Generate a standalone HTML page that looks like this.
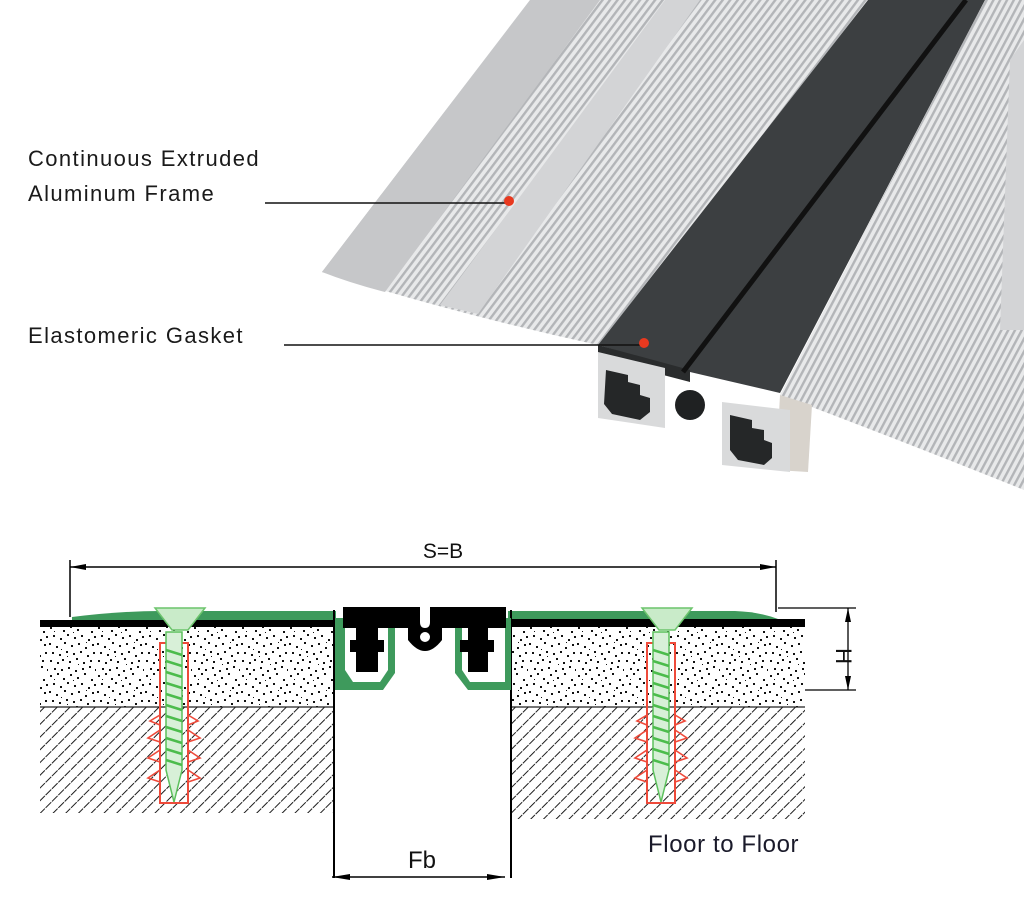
<!DOCTYPE html>
<html><head><meta charset="utf-8"><style>
html,body{margin:0;padding:0;background:#fff;}
svg{display:block;}
.lbl{font-family:"Liberation Sans",sans-serif;font-size:22px;letter-spacing:1.4px;fill:#1a1a1a;}
</style></head><body>
<svg width="1024" height="900" viewBox="0 0 1024 900" xmlns="http://www.w3.org/2000/svg">
<defs>
<pattern id="ribs" width="6" height="20" patternUnits="userSpaceOnUse" patternTransform="rotate(37)">
<rect width="6" height="20" fill="#e8e9ea"/>
<rect x="0" width="2.4" height="20" fill="#b3b5b8"/>
</pattern>
<pattern id="ribs2" width="6" height="20" patternUnits="userSpaceOnUse" patternTransform="rotate(28)">
<rect width="6" height="20" fill="#e8e9ea"/>
<rect x="0" width="2.4" height="20" fill="#b3b5b8"/>
</pattern>
<pattern id="speck" width="48" height="48" patternUnits="userSpaceOnUse">
<rect width="48" height="48" fill="#fff"/>
<g fill="#111">
<rect x="2" y="3" width="2" height="2"/><rect x="9" y="1" width="2" height="2"/><rect x="15" y="6" width="2" height="2"/>
<rect x="22" y="2" width="2" height="2"/><rect x="29" y="5" width="2" height="2"/><rect x="36" y="1" width="2" height="2"/>
<rect x="43" y="7" width="2" height="2"/><rect x="5" y="11" width="2" height="2"/><rect x="12" y="14" width="2" height="2"/>
<rect x="19" y="10" width="2" height="2"/><rect x="26" y="13" width="2" height="2"/><rect x="33" y="11" width="2" height="2"/>
<rect x="40" y="15" width="2" height="2"/><rect x="46" y="12" width="2" height="2"/><rect x="1" y="19" width="2" height="2"/>
<rect x="8" y="22" width="2" height="2"/><rect x="16" y="18" width="2" height="2"/><rect x="23" y="21" width="2" height="2"/>
<rect x="30" y="19" width="2" height="2"/><rect x="37" y="23" width="2" height="2"/><rect x="44" y="20" width="2" height="2"/>
<rect x="4" y="28" width="2" height="2"/><rect x="11" y="30" width="2" height="2"/><rect x="18" y="27" width="2" height="2"/>
<rect x="25" y="29" width="2" height="2"/><rect x="32" y="27" width="2" height="2"/><rect x="39" y="31" width="2" height="2"/>
<rect x="45" y="28" width="2" height="2"/><rect x="2" y="36" width="2" height="2"/><rect x="9" y="38" width="2" height="2"/>
<rect x="14" y="35" width="2" height="2"/><rect x="21" y="37" width="2" height="2"/><rect x="28" y="34" width="2" height="2"/>
<rect x="35" y="38" width="2" height="2"/><rect x="42" y="36" width="2" height="2"/><rect x="6" y="44" width="2" height="2"/>
<rect x="13" y="45" width="2" height="2"/><rect x="20" y="43" width="2" height="2"/><rect x="27" y="46" width="2" height="2"/>
<rect x="34" y="44" width="2" height="2"/><rect x="41" y="42" width="2" height="2"/><rect x="47" y="45" width="1" height="2"/>
<rect x="6" y="7" width="1" height="1"/><rect x="25" y="8" width="1" height="1"/><rect x="38" y="18" width="1" height="1"/>
<rect x="13" y="25" width="1" height="1"/><rect x="30" y="40" width="1" height="1"/><rect x="19" y="32" width="1" height="1"/>
</g></pattern>
<pattern id="hatch" width="9" height="9" patternUnits="userSpaceOnUse" patternTransform="rotate(45)">
<rect width="9" height="9" fill="#fff"/>
<line x1="0" y1="0" x2="0" y2="9" stroke="#111" stroke-width="1.9" stroke-dasharray="8 1"/>
</pattern>
</defs>

<!-- Top render -->
<path d="M322,272 L530,0 L868,0 L598,345 Q460,315 322,272 Z" fill="url(#ribs)"/>
<path d="M322,272 L530,0 L600,0 L385,292 Q350,283 322,272 Z" fill="#c6c7c9"/>
<path d="M440,305 L665,0 L700,0 L478,314 Z" fill="#d3d4d6"/>
<path d="M985,0 L1024,0 L1024,490 Q900,440 780,395 Z" fill="url(#ribs2)"/>
<path d="M1010,60 L1024,40 L1024,330 L1000,330 Z" fill="#d3d4d6"/>
<path d="M868,0 L985,0 L780,393 L690,372 L598,345 Z" fill="#3c3f41"/>
<path d="M598,345 L690,370 L690,382 L598,358 Z" fill="#2a2c2d"/>
<line x1="683" y1="372" x2="966" y2="0" stroke="#111" stroke-width="5"/>
<path d="M780,395 L812,405 L808,472 L776,470 Z" fill="#d8d3cc"/>
<path d="M598,352 L665,368 L665,428 L598,418 Z" fill="#d9dadb"/>
<path d="M606,370 L628,375 L628,382 L640,385 L640,395 L650,398 L650,412 L640,420 L612,414 L604,404 Z" fill="#252728"/>
<circle cx="690" cy="405" r="15" fill="#1f2122"/>
<path d="M722,402 L790,410 L790,472 L722,465 Z" fill="#d9dadb"/>
<path d="M730,415 L752,420 L752,428 L764,430 L764,440 L772,443 L772,458 L764,465 L738,460 L730,450 Z" fill="#252728"/>

<!-- labels -->
<text class="lbl" x="28" y="166">Continuous Extruded</text>
<text class="lbl" x="28" y="201">Aluminum Frame</text>
<line x1="265" y1="203" x2="508" y2="203" stroke="#111" stroke-width="1.5"/>
<circle cx="509" cy="201" r="5" fill="#e8391f"/>
<text class="lbl" x="28" y="343">Elastomeric Gasket</text>
<line x1="284" y1="345" x2="643" y2="345" stroke="#111" stroke-width="1.5"/>
<circle cx="644" cy="343" r="5" fill="#e8391f"/>

<!-- Bottom diagram -->
<rect x="40" y="627" width="295" height="80" fill="url(#speck)"/>
<rect x="512" y="627" width="293" height="80" fill="url(#speck)"/>
<rect x="40" y="707" width="295" height="106" fill="url(#hatch)"/>
<rect x="512" y="707" width="293" height="112" fill="url(#hatch)"/>
<line x1="40" y1="707" x2="335" y2="707" stroke="#222" stroke-width="1.2"/>
<line x1="512" y1="707" x2="805" y2="707" stroke="#222" stroke-width="1.2"/>
<rect x="40" y="620" width="300" height="7" fill="#000"/>
<rect x="510" y="619" width="295" height="8" fill="#000"/>
<path d="M72,617 Q120,611 160,611 L336,611 L336,620 L72,620 Z" fill="#3e9a5c"/>
<path d="M508,611 L735,611 Q760,612 778,619 L508,619 Z" fill="#3e9a5c"/>
<line x1="334" y1="610" x2="334" y2="878" stroke="#000" stroke-width="2"/>
<line x1="511" y1="610" x2="511" y2="878" stroke="#000" stroke-width="2"/>
<path d="M335,618 L395,618 L395,673 L383,690 L350,690 L335,690 Z" fill="#3e9a5c"/>
<path d="M455,618 L511,618 L511,690 L468,690 L455,673 Z" fill="#3e9a5c"/>
<path d="M345,625 L388,625 L388,670 L380,682 L353,682 L345,670 Z" fill="#fff"/>
<path d="M462,625 L505,625 L505,682 L470,682 L462,670 Z" fill="#fff"/>
<path d="M343,607 L420,607 L420,622 Q420,628 425,628 Q430,628 430,622 L430,607 L506,607 L506,628 L488,628 L488,640 L494,640 L494,652 L488,652 L488,672 L468,672 L468,652 L460,652 L460,640 L468,640 L468,628 L442,628 L442,640 Q425,662 408,640 L408,628 L378,628 L378,640 L384,640 L384,652 L378,652 L378,672 L356,672 L356,652 L350,652 L350,640 L356,640 L356,628 L343,628 Z" fill="#000"/>
<circle cx="425" cy="637" r="5" fill="#fff"/>

<g id="screw">
<path d="M155,608 L205,608 L188,630 L172,630 Z" fill="#c9ebc9" stroke="#6cc46c" stroke-width="1.5"/>
<rect x="160" y="643" width="28" height="160" fill="none" stroke="#ee4a3a" stroke-width="2"/>
<path d="M160,715 l-10,6 l10,4 M160,730 l-12,8 l12,4 M160,750 l-12,8 l12,4 M160,770 l-12,8 l12,4 M188,715 l10,6 l-10,4 M188,730 l12,8 l-12,4 M188,750 l12,8 l-12,4 M188,770 l12,8 l-12,4" fill="none" stroke="#ee4a3a" stroke-width="1.6"/>
<path d="M166,632 L182,632 L182,770 L174,802 L166,770 Z" fill="#d8f0d8" stroke="#5cc05c" stroke-width="1.5"/>
<g stroke="#4cbc4c" stroke-width="2.5">
<line x1="166" y1="650" x2="182" y2="655"/><line x1="166" y1="661" x2="182" y2="666"/><line x1="166" y1="672" x2="182" y2="677"/>
<line x1="166" y1="683" x2="182" y2="688"/><line x1="166" y1="694" x2="182" y2="699"/><line x1="166" y1="705" x2="182" y2="710"/>
<line x1="166" y1="716" x2="182" y2="721"/><line x1="166" y1="727" x2="182" y2="732"/><line x1="166" y1="738" x2="182" y2="743"/>
<line x1="166" y1="749" x2="182" y2="754"/><line x1="166" y1="760" x2="182" y2="765"/>
</g>
</g>
<use href="#screw" transform="translate(487,0)"/>

<line x1="70" y1="560" x2="70" y2="617" stroke="#000" stroke-width="1.5"/>
<line x1="776" y1="560" x2="776" y2="612" stroke="#000" stroke-width="1.5"/>
<line x1="70" y1="567" x2="776" y2="567" stroke="#000" stroke-width="1.5"/>
<path d="M70,567 l16,-3 l0,6 Z M776,567 l-16,-3 l0,6 Z" fill="#000"/>
<text x="443" y="558" text-anchor="middle" font-family="Liberation Sans,sans-serif" font-size="21" fill="#111">S=B</text>
<line x1="778" y1="608" x2="856" y2="608" stroke="#000" stroke-width="1.3"/>
<line x1="805" y1="690" x2="856" y2="690" stroke="#000" stroke-width="1.3"/>
<line x1="848" y1="608" x2="848" y2="690" stroke="#000" stroke-width="1.3"/>
<path d="M848,608 l-3,14 l6,0 Z M848,690 l-3,-14 l6,0 Z" fill="#000"/>
<text transform="translate(836,656) rotate(90)" text-anchor="middle" font-family="Liberation Sans,sans-serif" font-size="22" fill="#111">H</text>
<line x1="332" y1="877" x2="505" y2="877" stroke="#000" stroke-width="1.5"/>
<path d="M332,877 l18,-3 l0,6 Z M505,877 l-18,-3 l0,6 Z" fill="#000"/>
<text x="422" y="868" text-anchor="middle" font-family="Liberation Sans,sans-serif" font-size="24" fill="#111">Fb</text>
<text x="648" y="852" font-family="Liberation Sans,sans-serif" font-size="24" letter-spacing="0.6" fill="#1a1a2a">Floor to Floor</text>
</svg>
</body></html>
